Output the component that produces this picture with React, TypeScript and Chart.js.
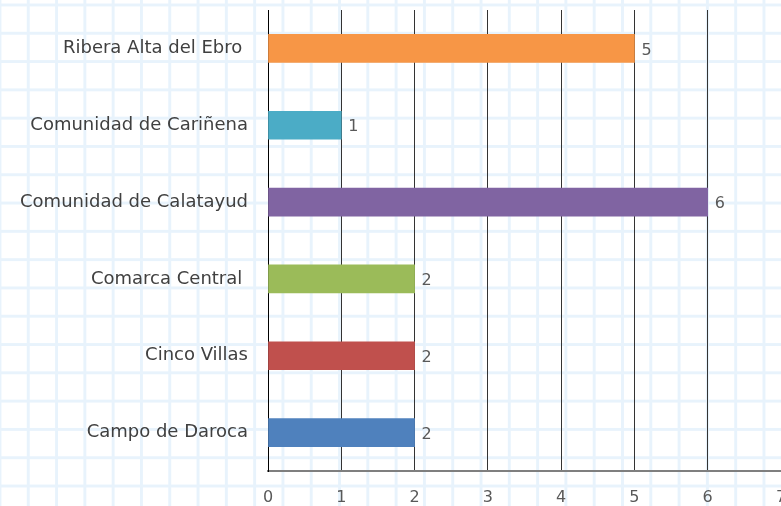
import { useEffect, useRef } from "react";
import { Chart, registerables } from "chart.js";

Chart.register(...registerables);

const categories = [
  "Ribera Alta del Ebro ",
  "Comunidad de Cariñena",
  "Comunidad de Calatayud",
  "Comarca Central ",
  "Cinco Villas",
  "Campo de Daroca",
];
const values = [5, 1, 6, 2, 2, 2];
const barColors = ["#F79646", "#4BACC6", "#8064A2", "#9BBB59", "#C0504D", "#4F81BD"];
const xMin = 0;
const xMax = 7;
const xStep = 1;

const FONT = "'DejaVu Sans', sans-serif";

const dataLabels = {
  id: "dataLabels",
  afterDatasetsDraw(chart: any) {
    const ctx = chart.ctx;
    const meta = chart.getDatasetMeta(0);
    ctx.save();
    ctx.font = `16px ${FONT}`;
    ctx.fillStyle = "#595959";
    ctx.textAlign = "left";
    ctx.textBaseline = "middle";
    meta.data.forEach((bar: any, i: number) => {
      ctx.fillText(String(values[i]), bar.x + 7, bar.y + 2);
    });
    ctx.restore();
  },
};

export default function App() {
  const ref = useRef<HTMLCanvasElement>(null);
  useEffect(() => {
    if (!ref.current) return;
    const chart = new Chart(ref.current, {
      type: "bar",
      data: {
        labels: categories,
        datasets: [
          {
            data: values,
            backgroundColor: barColors,
            borderWidth: 0,
            barThickness: 28,
          },
        ],
      },
      options: {
        indexAxis: "y",
        animation: false,
        responsive: false,
        devicePixelRatio: 1,
        layout: { padding: { top: 10, left: 0, right: 0, bottom: 0 } },
        plugins: {
          legend: { display: false },
          tooltip: { enabled: false },
          title: { display: false },
        },
        scales: {
          x: {
            type: "linear",
            min: xMin,
            max: xMax,
            ticks: {
              stepSize: xStep,
              padding: 17,
              color: "#595959",
              font: { family: FONT, size: 16 },
            },
            grid: { color: "#333333", lineWidth: 1, drawTicks: false },
            border: { display: true, color: "#7f7f7f", width: 2 },
            afterFit(scale: any) {
              scale.paddingRight = 0;
              scale.paddingLeft = 0;
              scale.paddingTop = 0;
              scale.paddingBottom = 0;
              scale.height = 35;
            },
          },
          y: {
            type: "category",
            ticks: {
              padding: 20,
              color: "#404040",
              font: { family: FONT, size: 18 },
            },
            grid: { display: false, drawTicks: false },
            border: { display: true, color: "#000000", width: 1 },
            afterFit(scale: any) {
              scale.paddingTop = 0;
              scale.paddingBottom = 0;
              scale.paddingLeft = 0;
              scale.paddingRight = 0;
              scale.width = 268;
            },
          },
        },
      },
      plugins: [dataLabels],
    });
    return () => chart.destroy();
  }, []);

  const line = "#e8f3fc";
  return (
    <div
      style={{
        position: "fixed",
        left: 0,
        top: 0,
        width: 781,
        height: 506,
        overflow: "hidden",
        backgroundColor: "#ffffff",
        backgroundImage: `linear-gradient(to right, ${line} 0px, ${line} 3px, transparent 3px), linear-gradient(to bottom, ${line} 0px, ${line} 3px, transparent 3px)`,
        backgroundSize: "28.3px 28.3px",
        backgroundPosition: "-1.5px 3.5px",
      }}
    >
      <canvas ref={ref} width={781} height={506} style={{ display: "block" }} />
    </div>
  );
}
